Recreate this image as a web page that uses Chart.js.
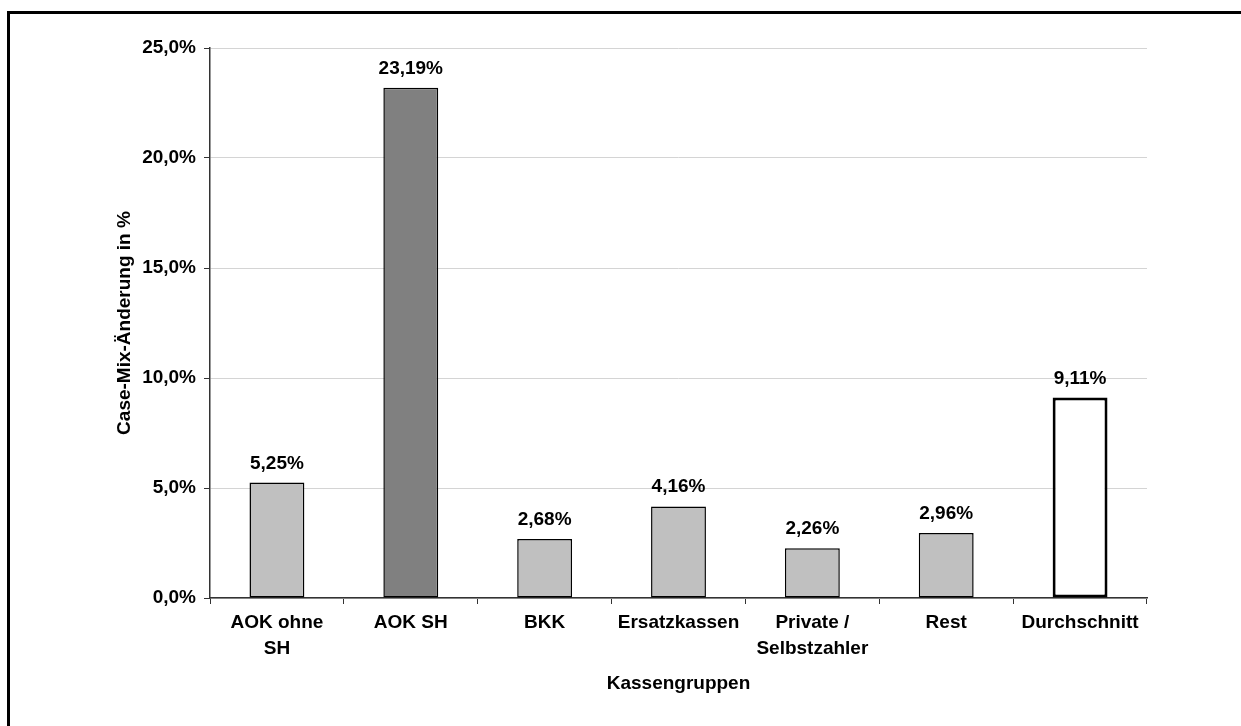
<!DOCTYPE html>
<html>
<head>
<meta charset="utf-8">
<script src="https://cdn.jsdelivr.net/npm/chart.js@4/dist/chart.umd.min.js"></script>
<style>
  html, body { margin: 0; padding: 0; background: #fff; }
  #wrap { width: 1241px; height: 726px; position: relative; }
</style>
</head>
<body>
<div id="wrap"><canvas id="c" width="1241" height="726"></canvas></div>
<script>
const categories = [["AOK ohne", "SH"], "AOK SH", "BKK", "Ersatzkassen", ["Private /", "Selbstzahler"], "Rest", "Durchschnitt"];
const values = [5.25, 23.19, 2.68, 4.16, 2.26, 2.96, 9.11];
const yTickValues = [0, 5, 10, 15, 20, 25];
const xTitle = "Kassengruppen";
const yTitle = "Case-Mix-Änderung in %";

const fillColors = ["#c0c0c0", "#808080", "#c0c0c0", "#c0c0c0", "#c0c0c0", "#c0c0c0", "#ffffff"];
const borderWidths = [1.5, 1.5, 1.5, 1.5, 1.5, 1.5, 3];

const FONT = "'Liberation Sans', Arial, Helvetica, sans-serif";
const FS = 19;
const fmt = (v, d) => v.toFixed(d).replace('.', ',') + '%';

const framePlugin = {
  id: 'frame',
  beforeDraw(chart) {
    const ctx = chart.ctx;
    ctx.save();
    ctx.fillStyle = '#000';
    ctx.fillRect(7, 11, 1241, 3);
    ctx.fillRect(7, 11, 3, 726);
    ctx.restore();
  }
};

const labelPlugin = {
  id: 'barLabels',
  afterDatasetsDraw(chart) {
    const ctx = chart.ctx;
    const meta = chart.getDatasetMeta(0);
    ctx.save();
    ctx.font = "bold " + FS + "px " + FONT;
    ctx.fillStyle = '#000';
    ctx.textAlign = 'center';
    ctx.textBaseline = 'alphabetic';
    meta.data.forEach((el, i) => {
      ctx.fillText(fmt(values[i], 2), el.x, el.y - 14);
    });
    ctx.restore();
  }
};

new Chart(document.getElementById('c'), {
  type: 'bar',
  data: {
    labels: categories,
    datasets: [{
      data: values,
      backgroundColor: fillColors,
      borderColor: '#000',
      borderWidth: borderWidths,
      borderSkipped: false,
      barPercentage: 0.41,
      categoryPercentage: 1
    }]
  },
  options: {
    responsive: false,
    animation: false,
    devicePixelRatio: 1,
    layout: { padding: { left: 0, right: 94, top: 48, bottom: 0 } },
    plugins: { legend: { display: false }, tooltip: { enabled: false } },
    scales: {
      x: {
        offset: true,
        afterFit(s) { s.height = 128; },
        grid: { offset: true, drawOnChartArea: false, tickLength: 6, tickColor: '#333', lineWidth: 1 },
        border: { color: '#333', width: 1.5 },
        ticks: {
          color: '#000', padding: 6,
          font: { family: FONT, size: FS, weight: 'bold', lineHeight: 1.37 },
          maxRotation: 0, autoSkip: false
        },
        title: {
          display: true, text: xTitle, color: '#000',
          font: { family: FONT, size: FS, weight: 'bold', lineHeight: 1.2 },
          padding: { top: 0, bottom: 31 }
        }
      },
      y: {
        min: 0, max: 25,
        afterFit(s) { s.width = 210; },
        afterBuildTicks(s) { s.ticks = yTickValues.map(v => ({ value: v })); },
        grid: { color: '#d4d4d4', lineWidth: 1, tickLength: 6, tickColor: '#333' },
        border: { color: '#333', width: 1.5 },
        ticks: {
          color: '#000', padding: 8,
          font: { family: FONT, size: FS, weight: 'bold' },
          callback: (v) => fmt(v, 1)
        },
        title: {
          display: true, text: yTitle, color: '#000',
          font: { family: FONT, size: FS, weight: 'bold', lineHeight: 1.2 },
          padding: { top: 113, bottom: 0 }
        }
      }
    }
  },
  plugins: [framePlugin, labelPlugin]
});
</script>
</body>
</html>
